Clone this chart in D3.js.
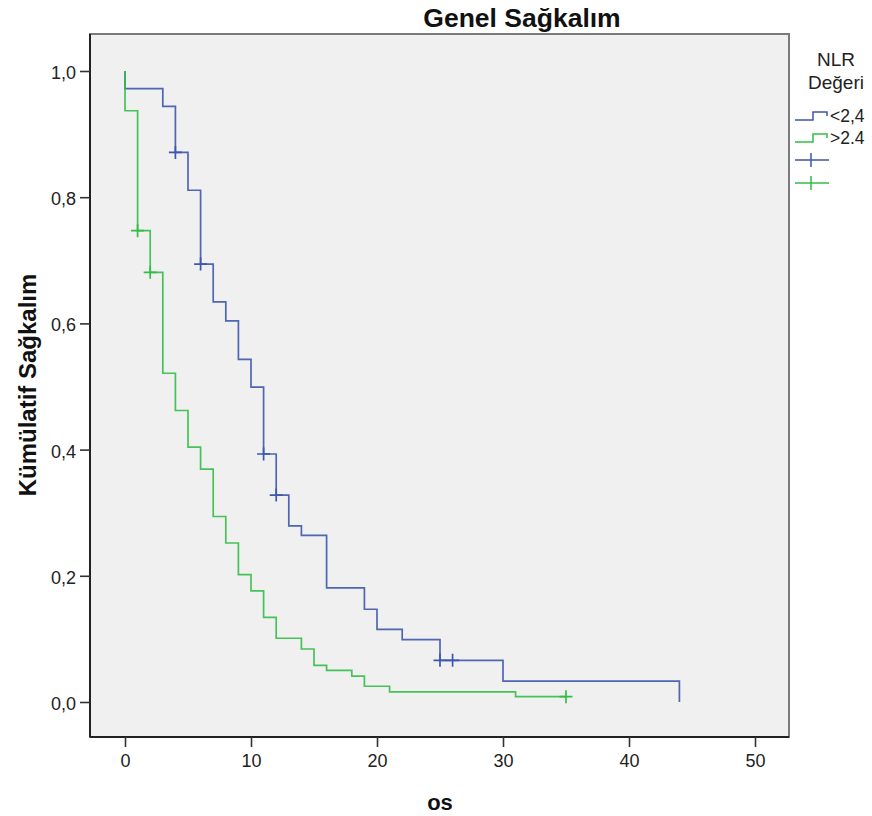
<!DOCTYPE html>
<html>
<head>
<meta charset="utf-8">
<script src="https://cdn.jsdelivr.net/npm/d3@7"></script>
<style>
  html, body { margin: 0; padding: 0; background: #ffffff; }
  svg { display: block; font-family: "Liberation Sans", Arial, sans-serif; }
</style>
</head>
<body>
<svg id="chart" width="872" height="816"></svg>
<script>
// ---- data ----
const groupNames = ["<2,4", ">2.4"];
// event times and survival after each event
const blueTimes = [0, 3, 4, 5, 6, 7, 8, 9, 10, 11, 12, 13, 14, 16, 19, 20, 22, 25, 30, 44];
const blueSurv  = [0.972, 0.944, 0.871, 0.811, 0.694, 0.634, 0.604, 0.543, 0.499, 0.393, 0.328, 0.279, 0.264, 0.181, 0.147, 0.115, 0.099, 0.066, 0.033, 0.0];
const blueCensor = [4, 6, 11, 12, 25, 26];
const blueEnd = 44;

const greenTimes = [0, 1, 2, 3, 4, 5, 6, 7, 8, 9, 10, 11, 12, 14, 15, 16, 18, 19, 21, 31];
const greenSurv  = [0.937, 0.747, 0.681, 0.521, 0.462, 0.404, 0.369, 0.294, 0.252, 0.202, 0.176, 0.134, 0.101, 0.084, 0.058, 0.050, 0.041, 0.025, 0.016, 0.0084];
const greenCensor = [1, 2, 35];
const greenEnd = 35;

const xTicks = [0, 10, 20, 30, 40, 50];
const yTicks = [0, 0.2, 0.4, 0.6, 0.8, 1.0];

const titleText = "Genel Sağkalım";
const xLabel = "os";
const yLabel = "Kümülatif Sağkalım";
const legendTitle = ["NLR", "Değeri"];

// ---- layout ----
const colors = ["#3c57ad", "#33bd47"];
const frame = { left: 90, top: 34, right: 789, bottom: 737 };
const svg = d3.select("#chart");

const x = d3.scaleLinear().domain([0, 50]).range([125, 755]);
const y = d3.scaleLinear().domain([0, 1]).range([702, 71]);

// plot background + frame
svg.append("rect")
  .attr("x", frame.left).attr("y", frame.top)
  .attr("width", frame.right - frame.left).attr("height", frame.bottom - frame.top)
  .attr("fill", "#f0f0f0").attr("stroke", "#7a7a7a").attr("stroke-width", 2);

// axes
const yAxis = d3.axisLeft(y).tickValues(yTicks).tickSize(10).tickPadding(4)
  .tickFormat(d => d3.format(".1f")(d).replace(".", ","));
const gy = svg.append("g").attr("transform", `translate(${frame.left},0)`).call(yAxis);
gy.select(".domain").attr("d", `M0,${frame.top}V${frame.bottom}`).attr("stroke", "#222").attr("stroke-width", 2);
gy.selectAll(".tick line").attr("stroke", "#333").attr("stroke-width", 1.6);
gy.selectAll(".tick text").attr("font-size", 18).attr("fill", "#222").attr("dy", "0.42em")
  .attr("font-family", "Liberation Sans, Arial, sans-serif");

const xAxis = d3.axisBottom(x).tickValues(xTicks).tickSize(10).tickPadding(7).tickFormat(d3.format("d"));
const gx = svg.append("g").attr("transform", `translate(0,${frame.bottom})`).call(xAxis);
gx.select(".domain").attr("d", `M${frame.left},0H${frame.right}`).attr("stroke", "#222").attr("stroke-width", 2);
gx.selectAll(".tick line").attr("stroke", "#333").attr("stroke-width", 1.6);
gx.selectAll(".tick text").attr("font-size", 18).attr("fill", "#222")
  .attr("font-family", "Liberation Sans, Arial, sans-serif");

// survival curves
function stepPoints(times, surv, end) {
  const pts = [[0, 1]];
  times.forEach((t, i) => pts.push([t, surv[i]]));
  const lastT = times[times.length - 1];
  if (end > lastT) pts.push([end, surv[surv.length - 1]]);
  return pts;
}
function survAt(times, surv, t) {
  let s = 1;
  times.forEach((tt, i) => { if (tt <= t) s = surv[i]; });
  return s;
}
const line = d3.line().x(d => x(d[0])).y(d => y(d[1])).curve(d3.curveStepAfter);

const groups = [
  { times: blueTimes, surv: blueSurv, censor: blueCensor, end: blueEnd, color: colors[0] },
  { times: greenTimes, surv: greenSurv, censor: greenCensor, end: greenEnd, color: colors[1] }
];

groups.forEach(g => {
  svg.append("path")
    .attr("d", line(stepPoints(g.times, g.surv, g.end)))
    .attr("fill", "none").attr("stroke", g.color).attr("stroke-width", 1.7)
    .attr("stroke-opacity", 0.9);
  const cs = 6.5;
  g.censor.forEach(t => {
    const cx = x(t), cy = y(survAt(g.times, g.surv, t));
    svg.append("path")
      .attr("d", `M${cx - cs},${cy}H${cx + cs}M${cx},${cy - cs}V${cy + cs}`)
      .attr("stroke", g.color).attr("stroke-width", 1.7).attr("fill", "none");
  });
});

// title and axis labels
svg.append("text").attr("x", 522).attr("y", 27).attr("text-anchor", "middle")
  .attr("font-size", 26.5).attr("font-weight", "bold").attr("fill", "#111").text(titleText);
svg.append("text").attr("x", 440).attr("y", 810).attr("text-anchor", "middle")
  .attr("font-size", 22).attr("font-weight", "bold").attr("fill", "#111").text(xLabel);
svg.append("text").attr("transform", "translate(36,385) rotate(-90)").attr("text-anchor", "middle")
  .attr("font-size", 24).attr("font-weight", "bold").attr("fill", "#111").text(yLabel);

// legend
const lg = svg.append("g");
legendTitle.forEach((t, i) => {
  lg.append("text").attr("x", 836).attr("y", 66 + i * 23).attr("text-anchor", "middle")
    .attr("font-size", 19).attr("fill", "#222").text(t);
});
const stepSym = (y0) => `M795,${y0 + 4}H813V${y0 - 4}H827V${y0}`;
[0, 1].forEach(i => {
  const yy = 116 + i * 22;
  lg.append("path").attr("d", stepSym(yy)).attr("fill", "none")
    .attr("stroke", colors[i]).attr("stroke-width", 1.5);
  lg.append("text").attr("x", 830).attr("y", yy + 6).attr("font-size", 17.5)
    .attr("fill", "#222").text(groupNames[i]);
});
[0, 1].forEach(i => {
  const yy = 160 + i * 23;
  lg.append("path").attr("d", `M795,${yy}H829M811,${yy - 7}V${yy + 7}`).attr("fill", "none")
    .attr("stroke", colors[i]).attr("stroke-width", 1.5);
});
</script>
</body>
</html>
